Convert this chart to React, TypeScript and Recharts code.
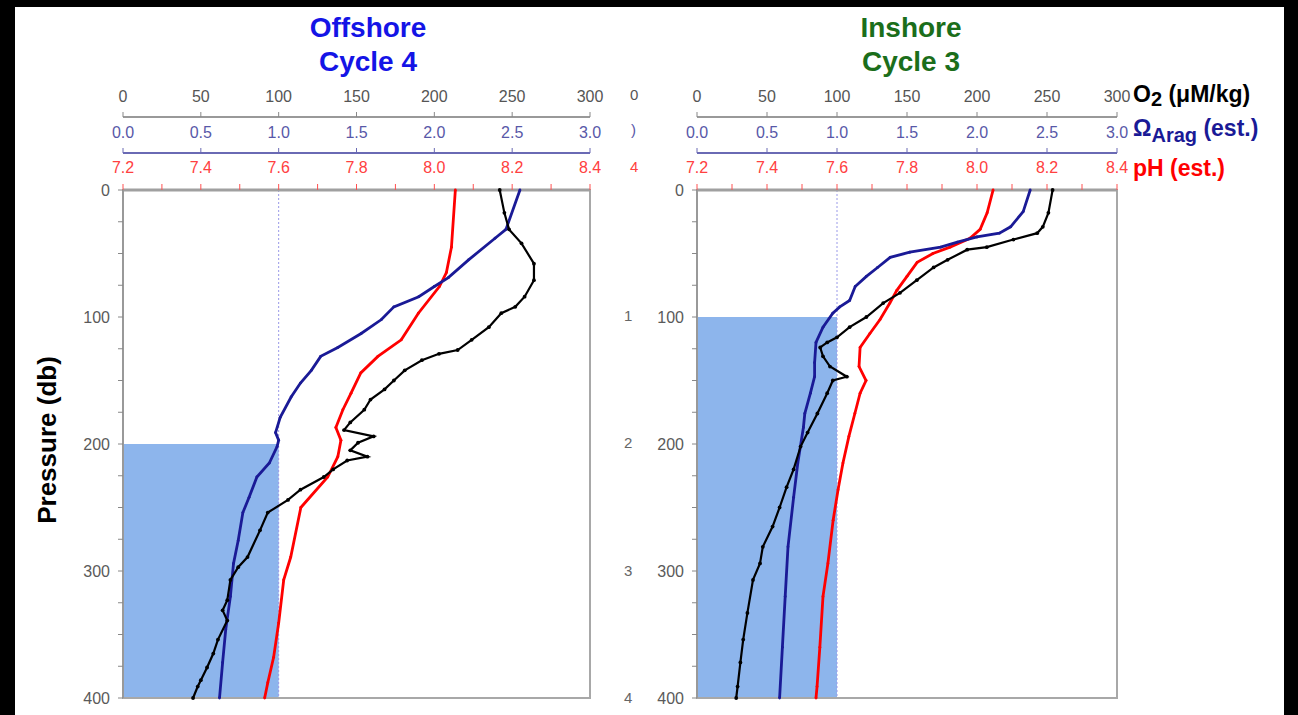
import React from 'react';
import { ScatterChart, Scatter, XAxis, YAxis, ReferenceArea, ReferenceLine } from 'recharts';

// [pressure (db), value]
type Pt = [number, number];

const offshoreO2: Pt[] = [
  [0, 242], [18, 245], [31, 248], [42, 256], [58, 264], [71, 264], [84, 258], [92, 252],
  [97, 243], [108, 235], [118, 224], [126, 215], [129, 203], [134, 192], [142, 181],
  [150, 174], [157, 168], [165, 159], [173, 155], [183, 146], [189, 142], [194, 161],
  [199, 151], [205, 146], [210, 157], [213, 144], [220, 135], [226, 129], [236, 114],
  [244, 106], [254, 93], [268, 88], [289, 80], [297, 74], [307, 69], [323, 67], [331, 64],
  [339, 67], [354, 61], [365, 58], [376, 54], [386, 50], [391, 48], [400, 45],
];
const offshoreOmega: Pt[] = [
  [0, 2.55], [31, 2.46], [38, 2.39], [55, 2.22], [69, 2.09], [76, 2.0], [84, 1.9], [92, 1.74],
  [102, 1.66], [113, 1.53], [124, 1.38], [131, 1.27], [142, 1.21], [152, 1.14], [163, 1.08],
  [179, 1.01], [191, 0.98], [197, 1.0], [202, 0.99], [215, 0.94], [226, 0.86], [242, 0.81],
  [254, 0.77], [276, 0.74], [294, 0.71], [320, 0.69], [346, 0.66], [372, 0.64], [400, 0.62],
];
const offshorePH: Pt[] = [
  [0, 8.054], [45, 8.044], [65, 8.031], [76, 8.013], [97, 7.959], [118, 7.915], [131, 7.855],
  [144, 7.811], [160, 7.786], [173, 7.765], [187, 7.747], [197, 7.76], [210, 7.752],
  [226, 7.726], [250, 7.657], [289, 7.631], [307, 7.613], [341, 7.6], [368, 7.587],
  [388, 7.572], [400, 7.564],
];

const inshoreO2: Pt[] = [
  [0, 254], [18, 251], [29, 247], [34, 243], [39, 226], [45, 207], [47, 193], [55, 179],
  [61, 169], [71, 157], [81, 145], [89, 133], [100, 121], [108, 109], [116, 100], [120, 93],
  [124, 88], [131, 90], [139, 95], [147, 107], [150, 97], [160, 93], [176, 86], [191, 79],
  [202, 74], [220, 69], [234, 64], [250, 59], [265, 54], [281, 47], [294, 45], [307, 40],
  [333, 36], [354, 33], [372, 31], [391, 29], [400, 28],
];
const inshoreOmega: Pt[] = [
  [0, 2.38], [17, 2.33], [29, 2.24], [34, 2.16], [37, 2.0], [41, 1.86], [45, 1.74], [49, 1.52],
  [53, 1.38], [61, 1.29], [68, 1.21], [76, 1.13], [87, 1.09], [92, 1.02], [97, 0.97],
  [108, 0.9], [120, 0.85], [136, 0.84], [147, 0.84], [160, 0.81], [176, 0.77], [187, 0.76],
  [215, 0.72], [242, 0.69], [281, 0.65], [320, 0.63], [360, 0.61], [400, 0.59],
];
const inshorePH: Pt[] = [
  [0, 8.046], [18, 8.029], [31, 8.009], [38, 7.98], [45, 7.923], [50, 7.874], [57, 7.829],
  [68, 7.8], [79, 7.771], [89, 7.751], [102, 7.723], [113, 7.694], [124, 7.666], [139, 7.663],
  [150, 7.683], [160, 7.666], [176, 7.651], [194, 7.634], [215, 7.617], [236, 7.603],
  [260, 7.589], [294, 7.574], [320, 7.56], [360, 7.551], [391, 7.543], [400, 7.54],
];

const o2Ticks = [0, 50, 100, 150, 200, 250, 300];
const omegaTicks = [0, 0.5, 1, 1.5, 2, 2.5, 3];
const phTicks = [7.2, 7.3, 7.4, 7.5, 7.6, 7.7, 7.8, 7.9, 8.0, 8.1, 8.2, 8.3, 8.4];
const pressureTicks = [0, 25, 50, 75, 100, 125, 150, 175, 200, 225, 250, 275, 300, 325, 350, 375, 400];

const FONT = '"Liberation Sans", Arial, sans-serif';
const BLACK = '#000000';
const NAVY = '#1a1a96';
const RED = '#ff0000';

// axis ids: top axes stack outward in id order, so pH sits on the frame
const PH = 'a_ph';
const OM = 'b_om';
const O2 = 'c_o2';

const toRows = (pts: Pt[]) => pts.map(([p, v]) => ({ p, v }));

const dot = (color: string, r: number) => (props: any) => (
  <circle cx={props.cx} cy={props.cy} r={r} fill={color} />
);

interface PanelProps {
  o2: Pt[];
  omega: Pt[];
  ph: Pt[];
  shadeTop: number;
  width: number;
  marginLeft: number;
  marginRight: number;
}

const Panel: React.FC<PanelProps> = ({ o2, omega, ph, shadeTop, width, marginLeft, marginRight }) => (
  <ScatterChart width={width} height={715} margin={{ top: 77, right: marginRight, bottom: 17, left: marginLeft }}>
    <XAxis
      xAxisId={PH} type="number" dataKey="v" orientation="top" domain={[7.2, 8.4]} ticks={phTicks}
      height={37} interval={0}
      tickFormatter={(v: number, i: number) => (i % 2 === 0 ? v.toFixed(1) : '')}
      tick={{ fill: '#ff4040', fontSize: 16, fontFamily: FONT }}
      tickLine={{ stroke: '#ff5050' }} tickSize={6} tickMargin={11}
      axisLine={{ stroke: '#a0a0a0', strokeWidth: 3 }}
    />
    <XAxis
      xAxisId={OM} type="number" dataKey="v" orientation="top" domain={[0, 3]} ticks={omegaTicks}
      height={36} interval={0}
      tickFormatter={(v: number) => v.toFixed(1)}
      tick={{ fill: '#5858a8', fontSize: 16, fontFamily: FONT }}
      tickLine={{ stroke: '#6a6ab4' }} tickSize={5} tickMargin={10}
      axisLine={{ stroke: '#6a6ab4', strokeWidth: 2 }}
    />
    <XAxis
      xAxisId={O2} type="number" dataKey="v" orientation="top" domain={[0, 300]} ticks={o2Ticks}
      height={40} interval={0}
      tick={{ fill: '#555555', fontSize: 16, fontFamily: FONT }}
      tickLine={{ stroke: '#888888' }} tickSize={5} tickMargin={10}
      axisLine={{ stroke: '#999999', strokeWidth: 2 }}
    />
    <YAxis
      yAxisId="p" type="number" dataKey="p" domain={[0, 400]} reversed ticks={pressureTicks}
      width={60} interval={0}
      tickFormatter={(v: number) => (v % 100 === 0 ? String(v) : '')}
      tick={{ fill: '#5a5a5a', fontSize: 16, fontFamily: FONT }}
      tickLine={{ stroke: '#888888' }} tickSize={5} tickMargin={8}
      axisLine={{ stroke: '#999999', strokeWidth: 2 }}
    />
    <ReferenceArea
      xAxisId={OM} yAxisId="p" x1={0} x2={1} y1={shadeTop} y2={400}
      fill="#8db5ec" fillOpacity={1} stroke="none"
    />
    <ReferenceLine xAxisId={OM} yAxisId="p" x={1} stroke="#9a9ae8" strokeDasharray="2 2" />
    <ReferenceArea
      xAxisId={O2} yAxisId="p" x1={0} x2={300} y1={0} y2={400}
      fill="none" fillOpacity={0} stroke="#a8a8a8" strokeWidth={2}
    />
    <Scatter
      xAxisId={PH} yAxisId="p" data={toRows(ph)} line={{ stroke: RED, strokeWidth: 2.8 }}
      shape={dot(RED, 1.4)} isAnimationActive={false}
    />
    <Scatter
      xAxisId={OM} yAxisId="p" data={toRows(omega)} line={{ stroke: NAVY, strokeWidth: 2.8 }}
      shape={dot(NAVY, 1.4)} isAnimationActive={false}
    />
    <Scatter
      xAxisId={O2} yAxisId="p" data={toRows(o2)} line={{ stroke: BLACK, strokeWidth: 2.2 }}
      shape={dot(BLACK, 1.9)} isAnimationActive={false}
    />
  </ScatterChart>
);

const abs = (left: number, top: number, extra: React.CSSProperties = {}): React.CSSProperties => ({
  position: 'absolute', left, top, ...extra,
});

const titleStyle = (color: string): React.CSSProperties => ({
  fontFamily: FONT, fontWeight: 'bold', fontSize: 28, lineHeight: '34px',
  color, textAlign: 'center', width: 240,
});

const legendStyle = (color: string): React.CSSProperties => ({
  fontFamily: FONT, fontWeight: 'bold', fontSize: 23, color, whiteSpace: 'nowrap',
});

const seamStyle = (color: string): React.CSSProperties => ({
  fontFamily: FONT, fontSize: 15, color, lineHeight: '18px',
});

export default function App() {
  return (
    <div style={abs(0, 0, { width: 1298, height: 715, background: '#000', overflow: 'hidden' })}>
      <div style={abs(15, 7, { width: 1269, height: 708, background: '#fff' })} />

      <div style={abs(0, 0)}>
        <Panel o2={offshoreO2} omega={offshoreOmega} ph={offshorePH} shadeTop={200}
          width={640} marginLeft={63} marginRight={50} />
      </div>
      <div style={abs(630, 0)}>
        <Panel o2={inshoreO2} omega={inshoreOmega} ph={inshorePH} shadeTop={100}
          width={668} marginLeft={7} marginRight={181} />
      </div>

      <div style={abs(248, 11, titleStyle('#1414e6'))}>Offshore<br />Cycle 4</div>
      <div style={abs(791, 11, titleStyle('#1b6e1b'))}>Inshore<br />Cycle 3</div>

      <div style={abs(47, 440, {
        transform: 'translate(-50%, -50%) rotate(-90deg)', fontFamily: FONT, fontWeight: 'bold',
        fontSize: 26, whiteSpace: 'nowrap', color: '#000',
      })}>Pressure (db)</div>

      <div style={abs(1133, 81, legendStyle('#000'))}>
        O<sub style={{ fontSize: 20, verticalAlign: '-4px' }}>2</sub> (μM/kg)
      </div>
      <div style={abs(1133, 115, legendStyle(NAVY))}>
        Ω<sub style={{ fontSize: 20, verticalAlign: '-6px' }}>Arag</sub> (est.)
      </div>
      <div style={abs(1133, 155, legendStyle(RED))}>pH (est.)</div>

      {/* stray label fragments at the seam between the two panels */}
      <div style={abs(630, 86, seamStyle('#555'))}>0</div>
      <div style={abs(631, 121, seamStyle('#5858a8'))}>)</div>
      <div style={abs(630, 158, seamStyle('#ff4040'))}>4</div>
      <div style={abs(624, 307, seamStyle('#666'))}>1</div>
      <div style={abs(624, 434, seamStyle('#666'))}>2</div>
      <div style={abs(624, 562, seamStyle('#666'))}>3</div>
      <div style={abs(624, 689, seamStyle('#666'))}>4</div>
    </div>
  );
}
